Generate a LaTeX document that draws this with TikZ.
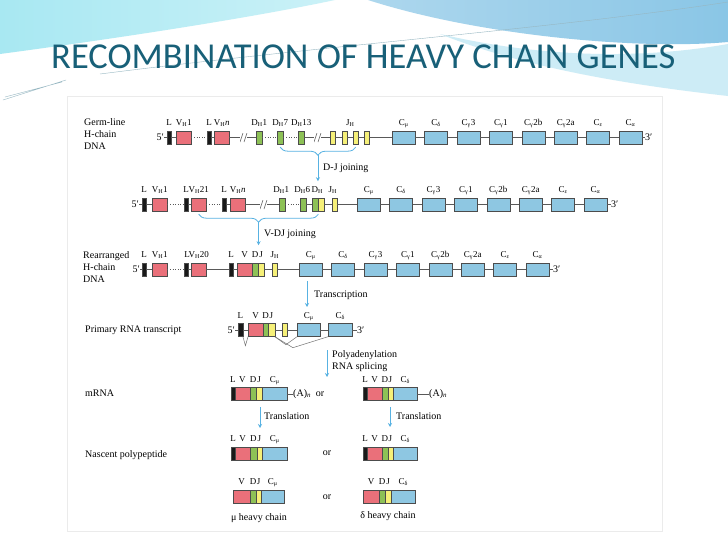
\documentclass[tikz,border=0pt]{standalone}
\usepackage{fontspec}
\setmainfont{Liberation Serif}
\newfontfamily\titlefont{Carlito}
\usetikzlibrary{positioning, arrows.meta, calc, decorations.pathreplacing}

\definecolor{vpink}{RGB}{234,112,122}
\definecolor{dgreen}{RGB}{141,193,86}
\definecolor{jyellow}{RGB}{246,240,120}
\definecolor{cblue}{RGB}{142,199,226}
\definecolor{flowblue}{RGB}{88,178,226}
\definecolor{titleteal}{RGB}{24,96,120}
\definecolor{topcyan}{RGB}{168,232,242}
\definecolor{topblue}{RGB}{138,198,230}
\definecolor{paleblue}{RGB}{205,236,246}

\newcommand{\Cg}[2]{C\textsubscript{#1}#2}
\newcommand{\Hs}[2]{#1\textsubscript{H}#2}
\newcommand{\Clist}{\Cg{μ}{},\Cg{δ}{},\Cg{γ}{3},\Cg{γ}{1},\Cg{γ}{2b},\Cg{γ}{2a},\Cg{ε}{},\Cg{α}{}}

\tikzset{
  seg/.style={draw=black!70, line width=0.4pt, minimum height=13pt, inner sep=0pt, anchor=west},
  lseg/.style={seg, fill=black!90, minimum width=4pt},
  vseg/.style={seg, fill=vpink, minimum width=15pt},
  dseg/.style={seg, fill=dgreen, minimum width=6pt},
  jseg/.style={seg, fill=jyellow, minimum width=5pt},
  cseg/.style={seg, fill=cblue, minimum width=23pt},
  dna/.style={draw=black!65, line width=0.6pt},
  splice/.style={draw=black!55, line width=0.5pt},
  tag/.style={font=\fontsize{9}{10}\selectfont, inner sep=0pt, anchor=base},
  note/.style={font=\fontsize{10}{12}\selectfont, inner sep=0pt, anchor=west},
  lbl/.style={tag, above=5pt of #1, anchor=base},
  side/.style={note, align=left, anchor=north west},
  brk/.style={inner sep=0pt, minimum width=7pt, minimum height=9pt,
    path picture={
      \draw[black!65, line width=0.5pt] (path picture bounding box.south west) -- ([xshift=-0.5pt]path picture bounding box.north);
      \draw[black!65, line width=0.5pt] ([xshift=0.5pt]path picture bounding box.south) -- (path picture bounding box.north east);}},
  flow/.style={draw=flowblue, line width=0.8pt, -{Stealth[length=4pt,width=4pt]}},
  bracket/.style={draw=flowblue, line width=0.8pt, decorate, decoration={brace, mirror, amplitude=8pt}}
}

\begin{document}
\begin{tikzpicture}[x=1pt, y=-1pt]
  \useasboundingbox (0,0) rectangle (728,546);
  % slide background
  \fill[white] (0,0) rectangle (728,546);
  \shade[left color=topcyan, right color=topcyan!60] (0,0) -- (335,0) .. controls (250,18) and (120,38) .. (0,54) -- cycle;
  \shade[left color=topblue!70, right color=topblue] (368,0) -- (728,0) -- (728,42) .. controls (640,50) and (480,36) .. (368,0) -- cycle;
  \fill[paleblue] (440,34) .. controls (560,62) and (660,56) .. (728,44) -- (728,96) .. controls (640,86) and (530,70) .. (440,34) -- cycle;
  \draw[titleteal!45, line width=0.4pt] (100,74) .. controls (320,46) and (560,28) .. (728,2);
  \draw[titleteal!45, line width=0.4pt] (3,100) -- (66,80) (5,97) -- (62,82);
  \node[font=\titlefont\fontsize{36.5}{42}\selectfont, text=titleteal, anchor=base west, inner sep=0pt] (title) at (51,68) {RECOMBINATION OF HEAVY CHAIN GENES};
  \draw[black!8, fill=white] (67,96) rectangle (662,531);

  % germ-line DNA
  \node[side] (gl) at (84,118.5) {Germ-line\\H-chain\\DNA};
  \node[note, anchor=east] (r1a) at (164,137.5) {5′};
  \node[lseg] (L1a) at (167,137.5) {};
  \node[vseg] (V1a) at (176,137.5) {};
  \node[lseg] (L1b) at (207,137.5) {};
  \node[vseg] (V1b) at (214,137.5) {};
  \node[brk] (k1a) at (243.5,137.5) {};
  \node[dseg] (D1a) at (256,137.5) {};
  \node[dseg] (D1b) at (277,137.5) {};
  \node[dseg] (D1c) at (298,137.5) {};
  \node[brk] (k1b) at (317.5,137.5) {};
  \node[jseg] (J1a) at (330,137.5) {};
  \node[jseg] (J1b) at (342,137.5) {};
  \node[jseg] (J1c) at (353,137.5) {};
  \node[jseg] (J1d) at (364,137.5) {};
  \foreach \g [count=\i from 0] in \Clist {
    \node[cseg] (c1\i) at (392+32.4*\i,137.5) {};
    \node[lbl=c1\i] {\g};
  }
  \node[note] (r1b) at (645,137.5) {3′};
  \node[lbl=L1a] {L};
  \node[lbl=V1a] {\Hs{V}{1}};
  \node[lbl=L1b] {L};
  \node[lbl=V1b] {\Hs{V}{\textit{n}}};
  \node[lbl=D1a] {\Hs{D}{1}};
  \node[lbl=D1b] {\Hs{D}{7}};
  \node[lbl=D1c] {\Hs{D}{13}};
  \node[tag] at ([yshift=5pt]$(J1b.north)!0.5!(J1c.north)$) {\Hs{J}{}};
  \draw[dna] (r1a.east) -- (L1a.west) (L1a.east) -- (V1a.west) (L1b.east) -- (V1b.west)
    (V1b.east) -- (k1a.west) (k1a.east) -- (D1a.west) (D1c.east) -- (k1b.west) (k1b.east) -- (J1a.west)
    (J1a.east) -- (J1b.west) (J1b.east) -- (J1c.west) (J1c.east) -- (J1d.west) (J1d.east) -- (c10.west)
    (c17.east) -- (r1b.west);
  \draw[dna, dotted] (V1a.east) -- (L1b.west) (D1a.east) -- (D1b.west) (D1b.east) -- (D1c.west);
  \foreach \i [count=\k from 0] in {1,...,7} \draw[dna] (c1\k.east) -- (c1\i.west);

  % D-J joining
  \draw[bracket] ([yshift=-3pt]D1b.south) -- ([yshift=-3pt]J1c.south);
  \coordinate (dj1) at ($(D1b.south)!0.5!(J1c.south)+(0,11)$);
  \coordinate (dj2) at ($(dj1)+(0,26)$);
  \draw[flow] (dj1) -- (dj2);
  \node[note] (djt) at (323,168) {D-J joining};

  % after D-J joining
  \node[note, anchor=east] (r2a) at (139,204.5) {5′};
  \node[lseg] (L2a) at (142,204.5) {};
  \node[vseg] (V2a) at (152,204.5) {};
  \node[lseg] (L2b) at (184,204.5) {};
  \node[vseg] (V2b) at (191,204.5) {};
  \node[lseg] (L2c) at (222,204.5) {};
  \node[vseg] (V2c) at (230,204.5) {};
  \node[brk] (k2a) at (263.5,204.5) {};
  \node[dseg] (D2a) at (279,204.5) {};
  \node[dseg] (D2b) at (300,204.5) {};
  \node[dseg] (D2c) at (312,204.5) {};
  \node[jseg, minimum width=6pt] (J2a) at (318,204.5) {};
  \node[jseg] (J2b) at (332,204.5) {};
  \foreach \g [count=\i from 0] in \Clist {
    \node[cseg] (c2\i) at (357+32.4*\i,204.5) {};
    \node[lbl=c2\i] {\g};
  }
  \node[note] (r2b) at (611,204.5) {3′};
  \node[lbl=L2a] {L};
  \node[lbl=V2a] {\Hs{V}{1}};
  \node[lbl=L2b] {L};
  \node[lbl=V2b] {\Hs{V}{21}};
  \node[lbl=L2c] {L};
  \node[lbl=V2c] {\Hs{V}{\textit{n}}};
  \node[lbl=D2a, xshift=-1pt] {\Hs{D}{1}};
  \node[lbl=D2b, xshift=-1pt] {\Hs{D}{6}};
  \node[lbl=D2c, xshift=2pt] {\Hs{D}{}};
  \node[lbl=J2b, xshift=-2pt] {\Hs{J}{}};
  \draw[dna] (r2a.east) -- (L2a.west) (L2a.east) -- (V2a.west) (L2b.east) -- (V2b.west)
    (L2c.east) -- (V2c.west) (V2c.east) -- (k2a.west) (k2a.east) -- (D2a.west) (D2b.east) -- (D2c.west)
    (J2a.east) -- (J2b.west) (J2b.east) -- (c20.west) (c27.east) -- (r2b.west);
  \draw[dna, dotted] (V2a.east) -- (L2b.west) (V2b.east) -- (L2c.west) (D2a.east) -- (D2b.west);
  \foreach \i [count=\k from 0] in {1,...,7} \draw[dna] (c2\k.east) -- (c2\i.west);

  % V-DJ joining
  \draw[bracket] ([yshift=-3pt]V2b.south) -- ([yshift=-3pt]D2c.south east);
  \coordinate (vdj1) at ($(V2b.south)!0.5!(D2c.south east)+(0,11)$);
  \coordinate (vdj2) at ($(vdj1)+(0,23)$);
  \draw[flow] (vdj1) -- (vdj2);
  \node[note] (vdjt) at (264,234) {V-DJ joining};

  % rearranged DNA
  \node[side] (rr) at (83,251.5) {Rearranged\\H-chain\\DNA};
  \node[note, anchor=east] (r3a) at (140,269.5) {5′};
  \node[lseg] (L3a) at (142,269.5) {};
  \node[vseg] (V3a) at (152,269.5) {};
  \node[lseg] (L3b) at (184,269.5) {};
  \node[vseg] (V3b) at (191,269.5) {};
  \node[lseg] (L3c) at (229,269.5) {};
  \node[vseg] (V3c) at (237,269.5) {};
  \node[dseg] (D3a) at (252,269.5) {};
  \node[jseg, minimum width=6pt] (J3a) at (258,269.5) {};
  \node[jseg] (J3b) at (272,269.5) {};
  \foreach \g [count=\i from 0] in \Clist {
    \node[cseg] (c3\i) at (299+32.4*\i,269.5) {};
    \node[lbl=c3\i] {\g};
  }
  \node[note] (r3b) at (553,269.5) {3′};
  \node[lbl=L3a] {L};
  \node[lbl=V3a] {\Hs{V}{1}};
  \node[lbl=L3b, xshift=1pt] {L};
  \node[lbl=V3b] {\Hs{V}{20}};
  \node[lbl=L3c] {L};
  \node[lbl=V3c] {V};
  \node[lbl=D3a] {D};
  \node[lbl=J3a] {J};
  \node[lbl=J3b] {\Hs{J}{}};
  \draw[dna] (r3a.east) -- (L3a.west) (L3a.east) -- (V3a.west) (L3b.east) -- (V3b.west)
    (V3b.east) -- (L3c.west) (L3c.east) -- (V3c.west) (J3a.east) -- (J3b.west) (J3b.east) -- (c30.west)
    (c37.east) -- (r3b.west);
  \draw[dna, dotted] (V3a.east) -- (L3b.west);
  \foreach \i [count=\k from 0] in {1,...,7} \draw[dna] (c3\k.east) -- (c3\i.west);

  % transcription
  \coordinate (tx1) at (307,281);
  \coordinate (tx2) at (307,307);
  \draw[flow] (tx1) -- (tx2);
  \node[note] (txt) at (314,295) {Transcription};

  % primary transcript
  \node[note] (prt) at (85,330) {Primary RNA transcript};
  \node[note, anchor=east] (r4a) at (235,330) {5′};
  \node[lseg, minimum width=4.5pt] (L4) at (238,330) {};
  \node[vseg] (V4) at (248,330) {};
  \node[dseg, minimum width=5pt] (D4) at (263,330) {};
  \node[jseg, minimum width=6.5pt] (J4a) at (268,330) {};
  \node[jseg] (J4b) at (282,330) {};
  \node[cseg] (C4a) at (297,330) {};
  \node[cseg, minimum width=24pt] (C4b) at (328,330) {};
  \node[note] (r4b) at (357,330) {3′};
  \node[lbl=L4] {L};
  \node[lbl=V4] {V};
  \node[lbl=D4] {D};
  \node[lbl=J4a] {J};
  \node[lbl=C4a] {\Cg{μ}{}};
  \node[lbl=C4b] {\Cg{δ}{}};
  \draw[dna] (r4a.east) -- (L4.west) (L4.east) -- (V4.west) (J4a.east) -- (J4b.west)
    (J4b.east) -- (C4a.west) (C4a.east) -- (C4b.west) (C4b.east) -- (r4b.west);
  \draw[splice] (L4.south east) -- ($(L4.south east)!0.5!(V4.south west)+(0,9)$) -- (V4.south west);
  \draw[splice] (J4a.south east) -- ($(J4a.south east)+(11,8)$) -- (C4a.south west);
  \draw[splice] (J4a.south east) -- ($(J4a.south east)+(18,11)$) -- (C4b.south west);

  % processing
  \coordinate (pa1) at (327,350);
  \coordinate (pa2) at (327,377);
  \draw[flow] (pa1) -- (pa2);
  \node[note, align=left] (pat) at (332,361) {Polyadenylation\\RNA splicing};

  % mRNA
  \node[note] (mrt) at (85,393) {mRNA};
  \node[lseg, minimum width=3.5pt] (L5a) at (231,394) {};
  \node[vseg, minimum width=15.5pt] (V5a) at (234.5,394) {};
  \node[dseg] (D5a) at (250,394) {};
  \node[jseg, minimum width=6pt] (J5a) at (256,394) {};
  \node[cseg, minimum width=25pt] (C5a) at (262,394) {};
  \node[note] (A5a) at (293,394) {(A)\textsubscript{\textit{n}}};
  \node[note, anchor=center] (or5) at (320,394) {or};
  \node[lseg] (L5b) at (363,394) {};
  \node[vseg] (V5b) at (367,394) {};
  \node[dseg, minimum width=5.5pt] (D5b) at (382,394) {};
  \node[jseg, minimum width=5.5pt] (J5b) at (387.5,394) {};
  \node[cseg, minimum width=24pt] (C5b) at (393,394) {};
  \node[note] (A5b) at (429,394) {(A)\textsubscript{\textit{n}}};
  \node[lbl=L5a] {L};
  \node[lbl=V5a] {V};
  \node[lbl=D5a] {D};
  \node[lbl=J5a] {J};
  \node[lbl=C5a] {\Cg{μ}{}};
  \node[lbl=L5b] {L};
  \node[lbl=V5b] {V};
  \node[lbl=D5b] {D};
  \node[lbl=J5b] {J};
  \node[lbl=C5b] {\Cg{δ}{}};
  \draw[dna] (C5a.east) -- (A5a.west) (C5b.east) -- (A5b.west);

  % translation
  \coordinate (tl1) at (260,407);
  \coordinate (tl2) at (260,428);
  \draw[flow] (tl1) -- (tl2);
  \node[note] (tlt) at (264,416) {Translation};
  \coordinate (tr1) at (390,407);
  \coordinate (tr2) at (390,427);
  \draw[flow] (tr1) -- (tr2);
  \node[note] (trt) at (396,416) {Translation};

  % nascent polypeptide
  \node[note] (npt) at (85,455) {Nascent polypeptide};
  \node[lseg] (L6a) at (231,453.5) {};
  \node[vseg] (V6a) at (235,453.5) {};
  \node[dseg, minimum width=6.5pt] (D6a) at (250,453.5) {};
  \node[jseg, minimum width=5.5pt] (J6a) at (256.5,453.5) {};
  \node[cseg, minimum width=25pt] (C6a) at (262,453.5) {};
  \node[note, anchor=center] (or6) at (327,453.5) {or};
  \node[lseg] (L6b) at (363,453.5) {};
  \node[vseg] (V6b) at (367,453.5) {};
  \node[dseg, minimum width=5.5pt] (D6b) at (382,453.5) {};
  \node[jseg, minimum width=5.5pt] (J6b) at (387.5,453.5) {};
  \node[cseg, minimum width=24pt] (C6b) at (393,453.5) {};
  \node[lbl=L6a] {L};
  \node[lbl=V6a] {V};
  \node[lbl=D6a] {D};
  \node[lbl=J6a] {J};
  \node[lbl=C6a] {\Cg{μ}{}};
  \node[lbl=L6b] {L};
  \node[lbl=V6b] {V};
  \node[lbl=D6b] {D};
  \node[lbl=J6b] {J};
  \node[lbl=C6b] {\Cg{δ}{}};

  % heavy chains
  \node[vseg, minimum width=17pt] (V7a) at (233,496.5) {};
  \node[dseg] (D7a) at (250,496.5) {};
  \node[jseg] (J7a) at (256,496.5) {};
  \node[cseg] (C7a) at (261,496.5) {};
  \node[note, anchor=center] (or7) at (327,497) {or};
  \node[vseg, minimum width=16pt] (V7b) at (363,496.5) {};
  \node[dseg] (D7b) at (379,496.5) {};
  \node[jseg, minimum width=6pt] (J7b) at (385,496.5) {};
  \node[cseg, minimum width=24pt] (C7b) at (391,496.5) {};
  \node[lbl=V7a] {V};
  \node[lbl=D7a] {D};
  \node[lbl=J7a] {J};
  \node[lbl=C7a] {\Cg{μ}{}};
  \node[lbl=V7b] {V};
  \node[lbl=D7b] {D};
  \node[lbl=J7b] {J};
  \node[lbl=C7b] {\Cg{δ}{}};
  \node[note, anchor=center] (muh) at (259,518) {μ heavy chain};
  \node[note, anchor=center] (deh) at (388,516) {δ heavy chain};
\end{tikzpicture}
\end{document}
